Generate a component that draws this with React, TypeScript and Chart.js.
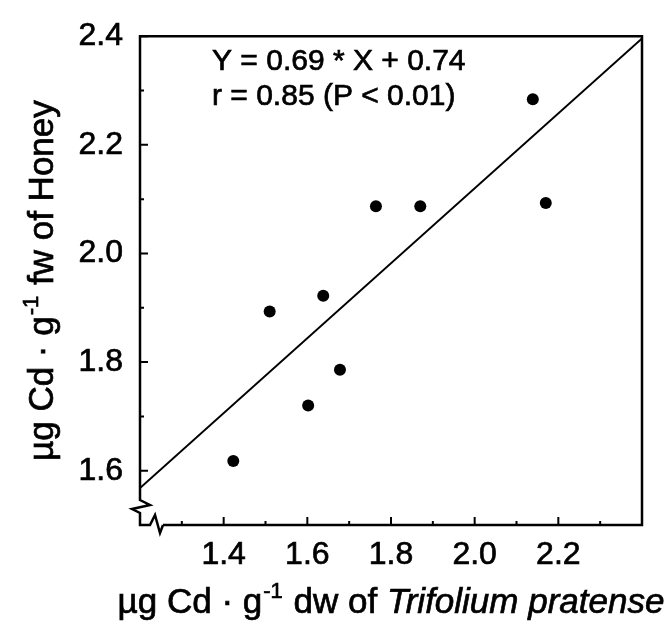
import React, { useEffect, useRef } from "react";
import { Chart, registerables } from "chart.js";

Chart.register(...registerables);

const FONT = '"Liberation Sans", Arial, Helvetica, sans-serif';

// Cd in red clover (dry weight) vs Cd in honey (fresh weight)
const cloverCd = [1.423, 1.51, 1.602, 1.638, 1.678, 1.764, 1.87, 2.139, 2.17];
const honeyCd = [1.618, 1.893, 1.72, 1.922, 1.786, 2.087, 2.087, 2.284, 2.093];

// Least-squares fit
const slope = 0.69;
const intercept = 0.74;
const correlation = 0.85;

const xRange = [1.2, 2.4];
const yRange = [1.5, 2.4];
const xMajorTicks = [1.4, 1.6, 1.8, 2.0, 2.2];
const xMinorTicks = [1.3, 1.5, 1.7, 1.9, 2.1, 2.3];
const yMajorTicks = [1.6, 1.8, 2.0, 2.2, 2.4];
const yMinorTicks = [1.7, 1.9, 2.1, 2.3];

const equationLines = [
  `Y = ${slope.toFixed(2)} * X + ${intercept.toFixed(2)}`,
  `r = ${correlation.toFixed(2)} (P < 0.01)`,
];

type Seg = { text: string; italic?: boolean; sup?: boolean };

const xTitle: Seg[] = [
  { text: "µg Cd · g" },
  { text: "-1", sup: true },
  { text: " dw of " },
  { text: "Trifolium pratense", italic: true },
];
const yTitle: Seg[] = [
  { text: "µg Cd · g" },
  { text: "-1", sup: true },
  { text: " fw of Honey" },
];

const TITLE_SIZE = 35;
const STROKE = 0.7;

function segFont(s: Seg) {
  const size = s.sup ? Math.round(TITLE_SIZE * 0.62) : TITLE_SIZE;
  return `${s.italic ? "italic " : ""}${size}px ${FONT}`;
}

function paintText(ctx: CanvasRenderingContext2D, text: string, x: number, y: number) {
  ctx.fillText(text, x, y);
  ctx.strokeText(text, x, y);
}

function drawRich(ctx: CanvasRenderingContext2D, segs: Seg[], cx: number, baseline: number) {
  let total = 0;
  const widths = segs.map((s) => {
    ctx.font = segFont(s);
    const w = ctx.measureText(s.text).width + (s.sup ? 2 : 0);
    total += w;
    return w;
  });
  let x = cx - total / 2;
  ctx.textAlign = "left";
  ctx.textBaseline = "alphabetic";
  segs.forEach((s, i) => {
    ctx.font = segFont(s);
    const dy = s.sup ? -TITLE_SIZE * 0.42 : 0;
    paintText(ctx, s.text, x + (s.sup ? 1 : 0), baseline + dy);
    x += widths[i];
  });
}

const framePlugin = {
  id: "frame",
  afterDatasetsDraw(chart: any) {
    const { ctx, chartArea: a, scales } = chart;
    const xs = scales.x;
    const ys = scales.y;
    ctx.save();
    ctx.strokeStyle = "#000";
    ctx.lineWidth = 2.5;
    ctx.lineJoin = "miter";

    // box with broken-axis marks at the lower-left corner
    const L = a.left;
    const B = a.bottom;
    ctx.beginPath();
    ctx.moveTo(L + 23, B);
    ctx.lineTo(a.right, B);
    ctx.lineTo(a.right, a.top);
    ctx.lineTo(L, a.top);
    ctx.lineTo(L, B - 25);
    ctx.lineTo(L + 10, B - 20);
    ctx.lineTo(L - 8, B - 16);
    ctx.lineTo(L, B - 12);
    ctx.lineTo(L, B);
    ctx.lineTo(L + 10, B);
    ctx.lineTo(L + 15, B - 10);
    ctx.lineTo(L + 20, B + 8);
    ctx.lineTo(L + 23, B);
    ctx.stroke();

    // inward tick marks
    ctx.lineWidth = 2;
    ctx.beginPath();
    xMajorTicks.forEach((v) => {
      const px = xs.getPixelForValue(v);
      ctx.moveTo(px, B);
      ctx.lineTo(px, B - 8);
    });
    xMinorTicks.forEach((v) => {
      const px = xs.getPixelForValue(v);
      ctx.moveTo(px, B);
      ctx.lineTo(px, B - 4);
    });
    yMajorTicks.forEach((v) => {
      const py = ys.getPixelForValue(v);
      ctx.moveTo(L, py);
      ctx.lineTo(L + 8, py);
    });
    yMinorTicks.forEach((v) => {
      const py = ys.getPixelForValue(v);
      ctx.moveTo(L, py);
      ctx.lineTo(L + 4, py);
    });
    ctx.stroke();

    // regression statistics
    ctx.fillStyle = "#000";
    ctx.lineWidth = STROKE;
    ctx.font = `30px ${FONT}`;
    ctx.textAlign = "left";
    ctx.textBaseline = "alphabetic";
    paintText(ctx, equationLines[0], L + 72, a.top + 34);
    paintText(ctx, equationLines[1], L + 72, a.top + 69);

    // axis titles
    const cx = (a.left + a.right) / 2;
    const cy = (a.top + a.bottom) / 2;
    drawRich(ctx, xTitle, cx, 613);
    ctx.translate(53, cy);
    ctx.rotate(-Math.PI / 2);
    drawRich(ctx, yTitle, 0, 0);
    ctx.restore();
  },
};

export default function App() {
  const ref = useRef<HTMLCanvasElement | null>(null);

  useEffect(() => {
    if (!ref.current) return;
    const points = cloverCd.map((x, i) => ({ x, y: honeyCd[i] }));
    const fit = xRange.map((x) => ({ x, y: slope * x + intercept }));
    const tickFont = { family: FONT, size: 32 };

    const chart = new Chart(ref.current, {
      type: "scatter",
      data: {
        datasets: [
          {
            type: "line",
            data: fit,
            borderColor: "#000",
            borderWidth: 2,
            pointRadius: 0,
            fill: false,
          },
          {
            type: "scatter",
            data: points,
            backgroundColor: "#000",
            borderColor: "#000",
            pointRadius: 6,
            borderWidth: 0,
          },
        ],
      },
      options: {
        responsive: false,
        animation: false,
        devicePixelRatio: 1,
        layout: { padding: { top: 28, right: 30, left: 0, bottom: 0 } },
        plugins: { legend: { display: false }, tooltip: { enabled: false } },
        scales: {
          x: {
            type: "linear",
            min: xRange[0],
            max: xRange[1],
            afterBuildTicks: (s: any) => {
              s.ticks = xMajorTicks.map((value) => ({ value }));
            },
            afterFit: (s: any) => {
              s.height = 98;
            },
            grid: { display: false, drawTicks: false },
            border: { display: false },
            ticks: {
              font: tickFont,
              color: "#000",
              textStrokeColor: "#000",
              textStrokeWidth: STROKE,
              padding: 11,
              maxRotation: 0,
              autoSkip: false,
              callback: (v: any) => Number(v).toFixed(1),
            },
          },
          y: {
            type: "linear",
            min: yRange[0],
            max: yRange[1],
            afterBuildTicks: (s: any) => {
              s.ticks = yMajorTicks.map((value) => ({ value }));
            },
            afterFit: (s: any) => {
              s.width = 140;
            },
            grid: { display: false, drawTicks: false },
            border: { display: false },
            ticks: {
              font: tickFont,
              color: "#000",
              textStrokeColor: "#000",
              textStrokeWidth: STROKE,
              padding: 17,
              autoSkip: false,
              callback: (v: any) => Number(v).toFixed(1),
            },
          },
        },
      },
      plugins: [framePlugin],
    });
    return () => chart.destroy();
  }, []);

  return (
    <div style={{ position: "fixed", left: 0, top: 0, width: 672, height: 623, background: "#fff" }}>
      <canvas ref={ref} width={672} height={623} style={{ width: 672, height: 623 }} />
    </div>
  );
}
